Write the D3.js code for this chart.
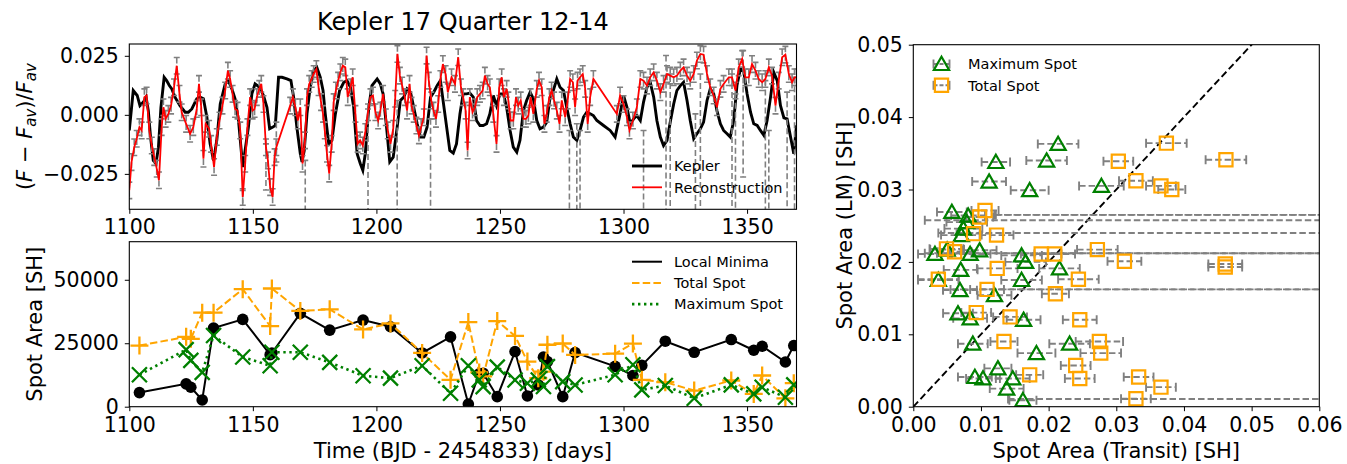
<!DOCTYPE html>
<html>
<head>
<meta charset="utf-8">
<script src="https://cdn.jsdelivr.net/npm/d3@7"></script>
<style>
  body { margin: 0; background: #fff; }
  svg text { font-family: "DejaVu Sans", sans-serif; }
</style>
</head>
<body>
<svg id="fig" width="1347" height="464"></svg>
<script>
// ---------- data: light curve (Kepler) ----------
const kepDay = [
  1100.0,1101.6,1103.2,1104.3,1105.7,1106.8,1107.7,1108.6,1109.7,1110.8,
  1111.8,1112.8,1114.1,1115.1,1116.2,1117.2,1118.5,1120.5,1122.6,1123.9,
  1125.3,1127.3,1128.6,1130.0,1131.4,1132.7,1134.1,1135.4,1136.8,1138.8,
  1140.1,1141.5,1142.8,1144.2,1145.9,1148.2,1149.6,1150.9,1152.7,1154.3,
  1155.7,1156.8,1158.1,1159.1,1160.4,1161.8,1163.8,1165.4,1166.5,1167.8,
  1169.2,1169.9,1170.8,1171.9,1173.2,1174.6,1175.9,1177.3,1178.4,1179.3,
  1180.7,1182.0,1183.4,1185.1,1186.8,1188.1,1189.5,1190.8,1192.2,1193.5,
  1194.5,1195.5,1196.9,1198.2,1200.3,1201.6,1202.7,1204.1,1205.4,1206.8,
  1208.4,1209.7,1211.1,1212.4,1213.8,1215.1,1216.5,1217.8,1219.2,1220.5,
  1221.9,1223.2,1224.6,1225.9,1227.7,1229.7,1231.1,1232.4,1233.8,1235.1,
  1236.5,1237.8,1239.2,1240.5,1241.9,1243.2,1244.6,1245.9,1247.3,1248.6,
  1250.0,1251.4,1252.7,1254.1,1255.4,1256.8,1258.1,1259.5,1260.8,1262.2,
  1263.5,1264.9,1266.2,1267.6,1268.9,1270.3,1271.6,1273.0,1274.3,1275.7,
  1277.0,1278.4,1279.7,1281.1,1282.4,1283.8,1285.1,1286.5,1287.8,1289.2,
  1291.9,1294.6,1296.6,1298.6,1300.0,1301.4,1302.7,1304.1,1305.4,1306.8,
  1308.1,1309.5,1310.8,1312.2,1313.5,1314.9,1316.2,1317.6,1318.9,1320.3,
  1321.6,1323.0,1324.3,1325.7,1327.0,1328.4,1329.7,1331.1,1332.4,1333.8,
  1335.1,1336.5,1337.8,1339.2,1340.5,1341.9,1343.2,1344.6,1345.9,1347.3,
  1348.6,1350.0,1351.4,1352.7,1354.1,1355.4,1356.8,1358.1,1359.5,1360.8,
  1362.2,1363.5,1364.9,1366.2,1367.6,1368.9,1370.0
];
const kepFlux = [
  -0.0066,0.0103,0.0082,0.0039,0.0054,0.0075,0.0018,-0.0094,-0.0193,-0.0207,
  -0.0137,0.0032,0.0159,0.0145,0.0124,0.0110,0.0075,0.0039,0.0011,0.0011,
  0.0025,0.0068,0.0075,0.0068,-0.0010,-0.0123,-0.0193,-0.0108,0.0046,0.0131,
  0.0145,0.0110,0.0068,-0.0024,-0.0221,-0.0052,0.0089,0.0131,0.0117,0.0082,
  0.0032,-0.0059,-0.0052,-0.0045,0.0159,0.0159,0.0152,0.0145,0.0075,-0.0052,
  -0.0165,-0.0200,-0.0151,0.0004,0.0117,0.0187,0.0201,0.0159,0.0103,0.0004,
  -0.0123,-0.0108,0.0004,0.0103,0.0138,0.0145,0.0117,0.0032,-0.0165,-0.0207,
  -0.0235,-0.0165,0.0032,0.0124,0.0152,0.0131,0.0089,-0.0052,-0.0199,-0.0179,
  -0.0052,0.0061,0.0075,0.0110,0.0096,0.0032,-0.0038,-0.0094,-0.0094,-0.0052,
  0.0075,0.0096,0.0124,0.0145,0.0004,-0.0151,-0.0162,-0.0123,0.0004,0.0089,
  0.0089,0.0092,0.0075,-0.0024,-0.0045,-0.0045,-0.0038,0.0004,0.0082,0.0039,
  0.0089,0.0089,0.0032,-0.0066,-0.0137,-0.0158,-0.0108,0.0018,0.0061,0.0096,
  0.0068,-0.0024,-0.0059,-0.0052,-0.0031,0.0075,0.0103,0.0152,0.0117,0.0103,
  0.0032,-0.0038,-0.0094,-0.0108,-0.0066,-0.0010,0.0011,0.0004,-0.0003,-0.0024,
  -0.0045,-0.0066,-0.0094,0.0004,0.0082,0.0032,-0.0038,-0.0017,-0.0003,-0.0024,
  0.0054,0.0117,0.0138,0.0075,-0.0024,-0.0094,-0.0130,-0.0108,-0.0031,0.0046,
  0.0103,0.0124,0.0138,0.0061,-0.0024,-0.0101,-0.0080,-0.0059,-0.0031,0.0061,
  0.0110,0.0089,0.0018,-0.0038,-0.0066,-0.0080,-0.0094,-0.0024,0.0124,0.0194,
  0.0187,0.0089,0.0011,-0.0038,-0.0045,-0.0066,-0.0087,-0.0024,0.0075,0.0180,
  0.0145,0.0040,-0.0013,-0.0017,-0.0094,-0.0165,-0.0045
];

// ---------- data: reconstruction ----------
const recDay = [
  1100.0,1100.9,1102.0,1103.0,1104.1,1105.0,1106.1,1107.0,1108.1,1109.1,
  1110.1,1111.1,1112.0,1113.1,1113.8,1114.7,1115.8,1116.9,1118.1,1119.2,
  1120.3,1121.2,1123.0,1124.6,1125.9,1127.3,1128.2,1129.1,1130.0,1130.9,
  1132.3,1133.1,1134.3,1135.4,1136.5,1137.7,1138.8,1139.9,1140.8,1141.8,
  1142.8,1143.8,1144.9,1145.9,1146.9,1147.8,1148.9,1149.9,1150.7,1151.6,
  1152.6,1153.4,1154.3,1155.3,1156.1,1157.0,1158.0,1158.8,1159.5,1165.1,
  1166.2,1167.2,1168.2,1169.2,1170.1,1171.1,1171.9,1172.8,1173.8,1174.6,
  1175.7,1176.6,1177.6,1178.4,1179.1,1180.0,1180.9,1181.9,1182.7,1183.6,
  1184.5,1185.4,1186.4,1187.4,1188.4,1189.5,1190.4,1191.5,1192.4,1193.4,
  1194.5,1195.5,1196.6,1197.6,1198.6,1199.6,1200.7,1201.6,1202.7,1203.8,
  1204.6,1205.7,1206.8,1207.6,1208.5,1209.5,1210.4,1211.5,1212.4,1213.4,
  1214.2,1215.1,1216.2,1217.2,1218.1,1219.2,1220.3,1221.2,1222.2,1223.1,
  1224.1,1225.0,1225.9,1226.9,1228.0,1228.9,1230.4,1231.8,1233.1,1234.2,
  1235.1,1236.1,1236.9,1237.8,1238.9,1239.9,1240.8,1241.9,1243.0,1243.9,
  1245.0,1245.9,1247.3,1248.6,1249.7,1250.7,1251.6,1252.7,1253.4,1254.3,
  1255.4,1256.5,1257.4,1258.4,1259.5,1260.5,1261.5,1262.4,1263.5,1264.9,
  1265.8,1266.9,1268.0,1268.9,1270.0,1270.9,1271.9,1273.0,1274.1,1275.0,
  1276.4,1277.4,1278.4,1279.5,1280.4,1281.4,1282.4,1283.5,1284.5,1285.5,
  1286.5,1287.8,1297.3,1298.6,1300.0,1301.4,1302.4,1303.8,1305.4,1306.8,
  1308.1,1309.5,1310.8,1312.2,1313.5,1314.9,1316.2,1317.6,1318.9,1320.3,
  1321.6,1323.0,1324.3,1325.7,1327.0,1328.4,1329.7,1331.1,1332.4,1333.8,
  1335.1,1336.5,1337.8,1339.2,1340.5,1342.6,1343.9,1345.3,1346.6,1348.0,
  1349.3,1350.7,1352.0,1353.4,1354.7,1356.1,1357.4,1358.8,1360.1,1361.5,
  1362.8,1364.2,1365.5,1366.9,1368.2,1369.2,1370.0
];
const recFlux = [
  -0.0320,-0.0200,-0.0137,-0.0101,-0.0052,-0.0066,0.0075,0.0082,-0.0066,-0.0130,
  -0.0179,-0.0228,-0.0277,-0.0052,0.0032,-0.0017,0.0004,0.0039,0.0117,0.0208,
  0.0089,0.0011,-0.0038,-0.0080,-0.0052,0.0025,0.0131,0.0032,-0.0186,-0.0038,
  -0.0059,-0.0123,-0.0221,-0.0094,-0.0024,0.0039,0.0103,0.0187,0.0152,0.0089,
  0.0025,0.0018,-0.0066,-0.0348,-0.0207,-0.0052,0.0075,0.0018,0.0025,0.0075,
  0.0110,0.0131,0.0046,-0.0137,-0.0193,-0.0306,-0.0348,-0.0179,-0.0137,0.0039,
  0.0075,0.0032,-0.0024,0.0032,-0.0207,-0.0108,0.0075,0.0131,0.0152,0.0173,
  0.0194,0.0117,0.0054,0.0004,-0.0066,-0.0165,-0.0249,-0.0123,0.0054,0.0103,
  0.0145,0.0180,0.0208,0.0201,0.0075,0.0117,0.0159,0.0004,-0.0123,-0.0108,
  -0.0130,-0.0073,0.0011,0.0075,0.0082,0.0011,-0.0024,0.0018,0.0089,-0.0010,
  -0.0066,-0.0123,-0.0059,0.0068,0.0258,0.0166,0.0124,0.0075,0.0018,0.0131,
  0.0039,0.0004,-0.0045,-0.0087,-0.0052,-0.0010,0.0251,0.0145,0.0061,0.0018,
  -0.0017,0.0046,0.0152,0.0215,0.0173,0.0096,0.0159,0.0131,0.0244,0.0117,
  0.0075,0.0018,-0.0151,0.0075,0.0011,0.0032,0.0075,0.0089,0.0103,0.0166,
  0.0131,0.0117,0.0004,-0.0123,0.0117,0.0159,0.0075,0.0110,0.0061,-0.0024,
  -0.0024,0.0075,0.0039,0.0061,-0.0017,-0.0017,-0.0003,0.0075,0.0004,0.0110,
  0.0145,0.0117,-0.0038,0.0004,0.0075,0.0103,0.0061,0.0018,-0.0038,0.0061,
  -0.0010,0.0061,0.0152,0.0138,0.0032,0.0145,0.0159,0.0173,0.0110,-0.0038,
  0.0075,0.0152,0.0004,0.0082,0.0046,-0.0010,-0.0066,-0.0024,0.0032,0.0152,
  0.0145,0.0124,0.0159,0.0180,0.0145,0.0096,0.0131,0.0173,0.0166,0.0159,
  0.0166,0.0187,0.0201,0.0166,0.0145,0.0173,0.0230,0.0258,0.0255,0.0173,
  0.0117,0.0082,0.0032,0.0110,0.0131,0.0159,0.0159,0.0103,0.0201,0.0237,
  0.0159,0.0159,0.0215,0.0187,0.0152,0.0138,0.0152,0.0201,0.0166,0.0039,
  0.0145,0.0244,0.0255,0.0173,0.0138,0.0159,0.0159
];
const recErr = 0.0035;

// reconstruction points whose error bar is very large (top / bottom of bar)
const wideDay    = [1145.9,1155.3,1159.5,1171.2,1196.6,1208.4,1221.9,1278.1,1281.1,1282.4,1308.1,
                    1317.2,1318.9,1329.1,1331.1,1343.9,1345.3,1348.4,1357.4,1358.8,1366.2,1369.2];
const wideTop    = [-0.0320,-0.0123,-0.0031,-0.0193,0.0025,0.0061,-0.0017,-0.0066,-0.0038,-0.0066,-0.0066,
                    0.0251,0.0173,0.0004,0.0173,0.0173,0.0089,0.0272,0.0145,-0.0066,0.0096,0.0159];
const wideBottom = [-0.060,-0.0318,-0.0200,-0.060,-0.060,-0.060,-0.060,-0.060,-0.060,-0.060,-0.060,
                    -0.060,-0.060,-0.060,-0.060,-0.060,-0.060,-0.0263,-0.060,-0.060,-0.060,-0.060];

// ---------- data: spot areas vs time ----------
const spotDay = [1104.1,1123.0,1124.9,1129.5,1134.1,1145.9,1157.0,1157.7,1169.2,1181.1,
                 1194.6,1205.7,1218.5,1230.0,1237.2,1241.6,1243.2,1248.9,1256.1,1261.1,
                 1265.5,1267.6,1269.2,1275.4,1280.4,1296.6,1303.8,1307.4,1316.9,1328.6,
                 1343.6,1352.7,1356.1,1365.5,1368.9];
const localMinima = [5560,9000,7670,2650,30960,34400,20510,21170,36780,30160,
                     34130,31490,21170,27500,1060,12970,13190,3950,21720,4230,
                     8570,19510,17770,3950,21330,15880,12300,16270,25800,21430,
                     26460,22230,23810,17600,24080];
const totalSpot = [24080,27520,26720,37040,37040,46300,31750,46570,37710,38370,
                   30430,32810,21170,10580,33340,13500,11910,33740,27900,17770,
                   11200,13800,24400,24900,20400,20900,24870,10580,9660,6350,
                   10320,5030,12300,3310,9260];
const maxSpot = [12570,22490,18260,13500,28050,19580,16140,21430,21430,17460,
                 12170,11250,16140,5290,16140,10580,7900,15610,10540,9220,
                 10540,7940,15800,9870,8570,12570,16540,6620,8340,3310,
                 8600,5030,7670,3700,8600];

// ---------- data: LM vs transit spot areas ----------
const maxTransit = [0.0214,0.0122,0.0197,0.0112,0.0172,0.0278,0.0057,0.0081,0.0079,0.0074,
                    0.0071,0.0032,0.0050,0.0084,0.0098,0.0160,0.0166,0.0216,0.0070,0.0037,
                    0.0160,0.0069,0.0120,0.0066,0.0084,0.0163,0.0088,0.0231,0.0182,0.0125,
                    0.0091,0.0103,0.0147,0.0138,0.0162,
                    0.080,0.070,0.070,0.070,0.075];
const maxLM      = [0.0363,0.0338,0.0340,0.0311,0.0299,0.0305,0.0269,0.0264,0.0255,0.0246,
                    0.0237,0.0211,0.0217,0.0211,0.0216,0.0209,0.0200,0.0191,0.0189,0.0175,
                    0.0175,0.0161,0.0154,0.0129,0.0122,0.0120,0.0087,0.0087,0.0074,0.0053,
                    0.0041,0.0039,0.0039,0.0025,0.0009,
                    0.0265,0.02575,0.0212,0.0162,0.00106];
const maxErr     = [0.0030,0.0021,0.0030,0.0025,0.0028,0.0033,0.0022,0.0025,0.0030,0.0028,
                    0.0030,0.0025,0.0025,0.0030,0.0025,0.0030,0.0030,0.0030,0.0025,0.0030,
                    0.0030,0.0025,0.0025,0.0022,0.0025,0.0025,0.0022,0.0030,0.0028,0.0020,
                    0.0025,0.0025,0.0025,0.0025,0.0020,
                    0.0680,0.0683,0.0683,0.0645,0.0610];
const totTransit = [0.0374,0.0462,0.0303,0.0329,0.0366,0.0382,0.0106,0.0098,0.0089,0.0123,
                    0.0049,0.0061,0.0189,0.0209,0.0272,0.0312,0.0461,0.0461,0.0124,0.0037,
                    0.0244,0.0109,0.0210,0.0093,0.0143,0.0246,0.0134,0.0275,0.0277,0.0240,
                    0.0246,0.0172,0.0333,0.0366,0.0329,
                    0.090,0.080,0.080,0.080];
const totLM      = [0.0364,0.0341,0.0339,0.0312,0.0305,0.0300,0.0271,0.0262,0.0239,0.0237,
                    0.0218,0.0214,0.0211,0.0211,0.0217,0.0201,0.0197,0.0193,0.0191,0.0176,
                    0.0176,0.0162,0.0156,0.0130,0.0124,0.0120,0.0090,0.0090,0.0074,0.0057,
                    0.0039,0.0044,0.0041,0.0027,0.0011,
                    0.0265,0.0240,0.0212,0.0162];
const totErr     = [0.0030,0.0030,0.0022,0.0025,0.0022,0.0020,0.0020,0.0020,0.0025,0.0025,
                    0.0025,0.0025,0.0030,0.0030,0.0030,0.0025,0.0025,0.0025,0.0030,0.0030,
                    0.0030,0.0025,0.0020,0.0022,0.0025,0.0025,0.0020,0.0035,0.0030,0.0022,
                    0.0022,0.0020,0.0022,0.0022,0.0022,
                    0.0778,0.0763,0.0765,0.0756];

const timeTicks = [1100,1150,1200,1250,1300,1350];
const fluxTicks = [-0.025,0,0.025];
const areaTicks = [0,25000,50000];
const lmTicks = [0,0.01,0.02,0.03,0.04,0.05];
const transitTicks = [0,0.01,0.02,0.03,0.04,0.05,0.06];

// ---------- layout ----------
const svg = d3.select('#fig');
const tickFont = 20.5, labelFont = 21, legendFont = 14.5;
const GRAY = '#808080', ORANGE = '#ffa500', GREEN = '#008000', RED = '#ff0000';

const topBox = {left:129.3, right:796.5, top:44, bottom:209.3};
const botBox = {left:129.3, right:796.5, top:241.7, bottom:406.7};
const rBox   = {left:913.3, right:1319.3, top:44.7, bottom:406.7};

const xT = d3.scaleLinear().domain([1100,1370]).range([topBox.left, topBox.right]);
const yTop = d3.scaleLinear().domain([-0.04,0.030]).range([topBox.bottom, topBox.top]);
const yBot = d3.scaleLinear().domain([0,65000]).range([botBox.bottom, botBox.top]);
const xR = d3.scaleLinear().domain([0,0.06]).range([rBox.left, rBox.right]);
const yR = d3.scaleLinear().domain([0,0.05]).range([rBox.bottom, rBox.top]);

const defs = svg.append('defs');
function clipFor(id, box) {
  defs.append('clipPath').attr('id', id).append('rect')
    .attr('x', box.left).attr('y', box.top)
    .attr('width', box.right - box.left).attr('height', box.bottom - box.top);
  return svg.append('g').attr('clip-path', `url(#${id})`);
}

function axes(box, x, y, xTicks, yTicks, xFmt, yFmt) {
  const gx = svg.append('g').attr('transform', `translate(0,${box.bottom})`)
    .call(d3.axisBottom(x).tickValues(xTicks).tickFormat(xFmt).tickSize(4.5).tickPadding(6).tickSizeOuter(0));
  const gy = svg.append('g').attr('transform', `translate(${box.left},0)`)
    .call(d3.axisLeft(y).tickValues(yTicks).tickFormat(yFmt).tickSize(4.5).tickPadding(6).tickSizeOuter(0));
  [gx, gy].forEach(g => {
    g.select('.domain').remove();
    g.selectAll('line').attr('stroke', 'black').attr('stroke-width', 1);
    g.selectAll('text').attr('font-size', tickFont).attr('font-family', 'DejaVu Sans').attr('fill', 'black');
  });
  svg.append('rect')
    .attr('x', box.left).attr('y', box.top)
    .attr('width', box.right - box.left).attr('height', box.bottom - box.top)
    .attr('fill', 'none').attr('stroke', 'black').attr('stroke-width', 1.1);
}

// ---------- top panel: light curves ----------
const gTop = clipFor('clipTop', topBox);
const kep = d3.zip(kepDay, kepFlux);
const rec = d3.zip(recDay, recFlux);

gTop.append('path').datum(kep)
  .attr('d', d3.line().x(d => xT(d[0])).y(d => yTop(d[1])))
  .attr('fill', 'none').attr('stroke', 'black').attr('stroke-width', 2.9);

// error bars of the reconstruction
const eb = gTop.append('g').attr('stroke', GRAY).attr('stroke-width', 1.6);
eb.selectAll('.bar').data(rec).join('line')
  .attr('x1', d => xT(d[0])).attr('x2', d => xT(d[0]))
  .attr('y1', d => yTop(d[1] + recErr)).attr('y2', d => yTop(d[1] - recErr))
  .attr('stroke-dasharray', '6,2.5');
eb.selectAll('.capT').data(rec).join('line')
  .attr('x1', d => xT(d[0]) - 3).attr('x2', d => xT(d[0]) + 3)
  .attr('y1', d => yTop(d[1] + recErr)).attr('y2', d => yTop(d[1] + recErr));
eb.selectAll('.capB').data(rec).join('line')
  .attr('x1', d => xT(d[0]) - 3).attr('x2', d => xT(d[0]) + 3)
  .attr('y1', d => yTop(d[1] - recErr)).attr('y2', d => yTop(d[1] - recErr));

const wide = d3.zip(wideDay, wideTop, wideBottom);
eb.selectAll('.wide').data(wide).join('line')
  .attr('x1', d => xT(d[0])).attr('x2', d => xT(d[0]))
  .attr('y1', d => yTop(d[1])).attr('y2', d => yTop(d[2]))
  .attr('stroke-dasharray', '6,3');
eb.selectAll('.wideT').data(wide).join('line')
  .attr('x1', d => xT(d[0]) - 3).attr('x2', d => xT(d[0]) + 3)
  .attr('y1', d => yTop(d[1])).attr('y2', d => yTop(d[1]));
eb.selectAll('.wideB').data(wide).join('line')
  .attr('x1', d => xT(d[0]) - 3).attr('x2', d => xT(d[0]) + 3)
  .attr('y1', d => yTop(d[2])).attr('y2', d => yTop(d[2]));

gTop.append('path').datum(rec)
  .attr('d', d3.line().x(d => xT(d[0])).y(d => yTop(d[1])))
  .attr('fill', 'none').attr('stroke', RED).attr('stroke-width', 1.8);

axes(topBox, xT, yTop, timeTicks, fluxTicks, d3.format('d'), d3.format('.3f'));

// legend (top)
[['Kepler', 'black', 2.9], ['Reconstruction', RED, 1.8]].forEach((d, i) => {
  const y = 166 + i * 21.3;
  svg.append('line').attr('x1', 632).attr('x2', 662).attr('y1', y).attr('y2', y)
    .attr('stroke', d[1]).attr('stroke-width', d[2]);
  svg.append('text').attr('x', 674).attr('y', y + 5.3).attr('font-size', legendFont).text(d[0]);
});

svg.append('text')
  .attr('x', (topBox.left + topBox.right) / 2).attr('y', 30)
  .attr('text-anchor', 'middle').attr('font-size', 24)
  .text('Kepler 17 Quarter 12-14');

const yl = svg.append('text')
  .attr('transform', `translate(32,${(topBox.top + topBox.bottom) / 2}) rotate(-90)`)
  .attr('text-anchor', 'middle').attr('font-size', labelFont);
yl.append('tspan').text('(');
yl.append('tspan').attr('font-style', 'italic').text('F');
yl.append('tspan').text(' − ');
yl.append('tspan').attr('font-style', 'italic').text('F');
yl.append('tspan').attr('font-style', 'italic').attr('font-size', 15).attr('dy', 4).text('av');
yl.append('tspan').attr('dy', -4).text(')/');
yl.append('tspan').attr('font-style', 'italic').text('F');
yl.append('tspan').attr('font-style', 'italic').attr('font-size', 15).attr('dy', 4).text('av');

// ---------- bottom panel: spot areas ----------
const gBot = clipFor('clipBot', botBox);
const series = [
  {name: 'Local Minima', vals: localMinima, color: 'black', dash: null, width: 2},
  {name: 'Total Spot', vals: totalSpot, color: ORANGE, dash: '7.5,3.2', width: 2},
  {name: 'Maximum Spot', vals: maxSpot, color: GREEN, dash: '2.4,3.6', width: 2.6}
];
const spotLine = d3.line().x(d => xT(d[0])).y(d => yBot(d[1]));
series.forEach((s, k) => {
  const pts = d3.zip(spotDay, s.vals);
  gBot.append('path').datum(pts).attr('d', spotLine)
    .attr('fill', 'none').attr('stroke', s.color).attr('stroke-width', s.width)
    .attr('stroke-dasharray', s.dash);
  const m = gBot.append('g');
  if (k === 0) {
    m.selectAll('circle').data(pts).join('circle')
      .attr('cx', d => xT(d[0])).attr('cy', d => yBot(d[1])).attr('r', 5.8).attr('fill', 'black');
  } else {
    const shape = k === 1 ? 'M-9,0H9M0,-9V9' : 'M-7.5,-7.5L7.5,7.5M-7.5,7.5L7.5,-7.5';
    m.selectAll('path').data(pts).join('path')
      .attr('d', shape)
      .attr('transform', d => `translate(${xT(d[0])},${yBot(d[1])})`)
      .attr('stroke', s.color).attr('stroke-width', 2.3).attr('fill', 'none');
  }
  const ly = 261.7 + k * 21.2;
  svg.append('line').attr('x1', 632).attr('x2', 662).attr('y1', ly).attr('y2', ly)
    .attr('stroke', s.color).attr('stroke-width', s.width).attr('stroke-dasharray', s.dash);
  svg.append('text').attr('x', 674).attr('y', ly + 5.3).attr('font-size', legendFont).text(s.name);
});

axes(botBox, xT, yBot, timeTicks, areaTicks, d3.format('d'), d3.format('d'));

svg.append('text')
  .attr('transform', `translate(42,${(botBox.top + botBox.bottom) / 2}) rotate(-90)`)
  .attr('text-anchor', 'middle').attr('font-size', labelFont).text('Spot Area [SH]');
svg.append('text')
  .attr('x', (botBox.left + botBox.right) / 2).attr('y', 458)
  .attr('text-anchor', 'middle').attr('font-size', labelFont).text('Time (BJD - 2454833) [days]');

// ---------- right panel: LM vs transit ----------
const gR = clipFor('clipR', rBox);

gR.append('line')
  .attr('x1', xR(0)).attr('y1', yR(0)).attr('x2', xR(0.06)).attr('y2', yR(0.06))
  .attr('stroke', 'black').attr('stroke-width', 1.9).attr('stroke-dasharray', '7,3.5');

function xErrBars(g, xs, ys, es) {
  const pts = d3.zip(xs, ys, es);
  const e = g.append('g').attr('stroke', GRAY).attr('stroke-width', 1.9);
  e.selectAll('.b').data(pts).join('line')
    .attr('x1', d => xR(d[0] - d[2])).attr('x2', d => xR(d[0] + d[2]))
    .attr('y1', d => yR(d[1])).attr('y2', d => yR(d[1]))
    .attr('stroke-dasharray', '6.5,3');
  [-1, 1].forEach(sg => {
    e.selectAll('.c' + sg).data(pts).join('line')
      .attr('x1', d => xR(d[0] + sg * d[2])).attr('x2', d => xR(d[0] + sg * d[2]))
      .attr('y1', d => yR(d[1]) - 4.5).attr('y2', d => yR(d[1]) + 4.5);
  });
}
const TRI = 'M0,-7.2L7.6,6L-7.6,6Z';
const SQR = 'M-6.6,-6.6H6.6V6.6H-6.6Z';

xErrBars(gR, maxTransit, maxLM, maxErr);
xErrBars(gR, totTransit, totLM, totErr);

gR.append('g').selectAll('path').data(d3.zip(maxTransit, maxLM)).join('path')
  .attr('d', TRI).attr('transform', d => `translate(${xR(d[0])},${yR(d[1])})`)
  .attr('fill', 'none').attr('stroke', GREEN).attr('stroke-width', 2.2);
gR.append('g').selectAll('path').data(d3.zip(totTransit, totLM)).join('path')
  .attr('d', SQR).attr('transform', d => `translate(${xR(d[0])},${yR(d[1])})`)
  .attr('fill', 'none').attr('stroke', ORANGE).attr('stroke-width', 2.2);

axes(rBox, xR, yR, transitTicks, lmTicks, d3.format('.2f'), d3.format('.2f'));

// legend (right)
[['Maximum Spot', TRI, GREEN], ['Total Spot', SQR, ORANGE]].forEach((d, i) => {
  const cx = 941.5, cy = 64 + i * 21.3;
  const lg = svg.append('g').attr('transform', `translate(${cx},${cy})`);
  lg.append('line').attr('x1', -8).attr('x2', 8).attr('stroke', GRAY).attr('stroke-width', 1.9)
    .attr('stroke-dasharray', '4,2');
  lg.append('line').attr('x1', -8).attr('x2', -8).attr('y1', -4.5).attr('y2', 4.5).attr('stroke', GRAY).attr('stroke-width', 1.9);
  lg.append('line').attr('x1', 8).attr('x2', 8).attr('y1', -4.5).attr('y2', 4.5).attr('stroke', GRAY).attr('stroke-width', 1.9);
  lg.append('path').attr('d', d[1]).attr('fill', 'none').attr('stroke', d[2]).attr('stroke-width', 2.2);
  svg.append('text').attr('x', 968).attr('y', cy + 5.3).attr('font-size', legendFont).text(d[0]);
});

svg.append('text')
  .attr('transform', `translate(852,${(rBox.top + rBox.bottom) / 2}) rotate(-90)`)
  .attr('text-anchor', 'middle').attr('font-size', labelFont).text('Spot Area (LM) [SH]');
svg.append('text')
  .attr('x', (rBox.left + rBox.right) / 2).attr('y', 458)
  .attr('text-anchor', 'middle').attr('font-size', labelFont).text('Spot Area (Transit) [SH]');
</script>
</body>
</html>
